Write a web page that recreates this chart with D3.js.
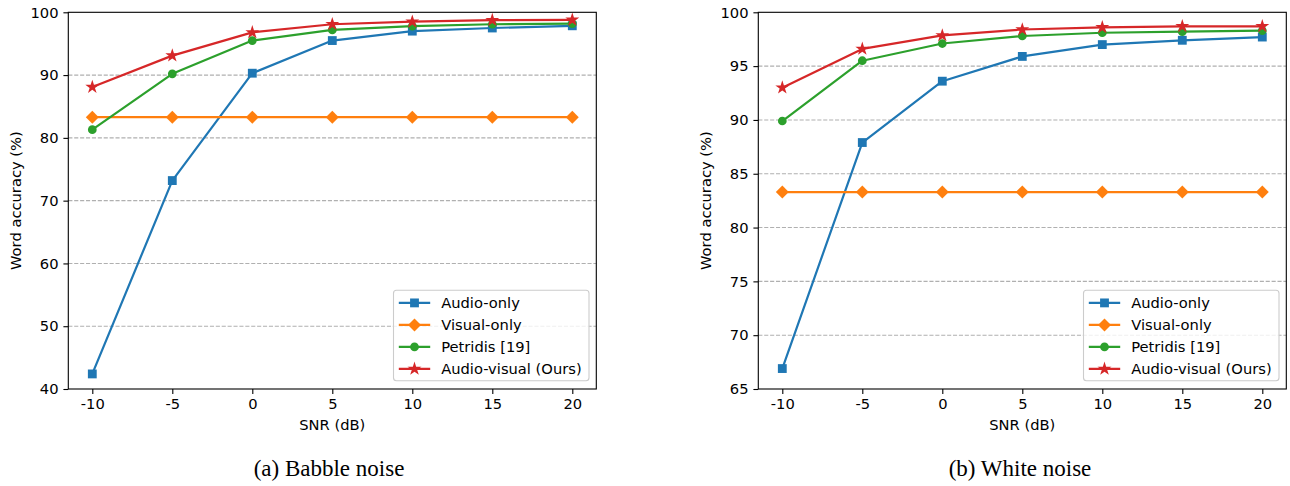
<!DOCTYPE html>
<html>
<head>
<meta charset="utf-8">
<script src="https://cdn.jsdelivr.net/npm/d3@7/dist/d3.min.js"></script>
<style>
  html, body { margin: 0; padding: 0; background: #fff; }
  svg { display: block; }
  text { font-family: "DejaVu Sans", sans-serif; fill: #000; }
</style>
</head>
<body>
<svg id="chart" width="1290" height="486"></svg>
<script>
// ---- Data ----
const snr = [-10, -5, 0, 5, 10, 15, 20];
const seriesNames = ["Audio-only", "Visual-only", "Petridis [19]", "Audio-visual (Ours)"];

const babbleAudio  = [42.4, 73.2, 90.3, 95.5, 97.0, 97.5, 97.85];
const babbleVisual = [83.3, 83.3, 83.3, 83.3, 83.3, 83.3, 83.3];
const babblePetridis = [81.3, 90.2, 95.5, 97.2, 97.8, 98.1, 98.2];
const babbleAV     = [88.1, 93.1, 96.8, 98.1, 98.5, 98.75, 98.8];

const whiteAudio   = [66.9, 87.9, 93.6, 95.9, 97.0, 97.4, 97.7];
const whiteVisual  = [83.3, 83.3, 83.3, 83.3, 83.3, 83.3, 83.3];
const whitePetridis = [89.9, 95.5, 97.1, 97.8, 98.1, 98.2, 98.3];
const whiteAV      = [93.0, 96.6, 97.85, 98.4, 98.6, 98.7, 98.7];

const xTicks = [-10, -5, 0, 5, 10, 15, 20];
const babbleYTicks = [40, 50, 60, 70, 80, 90, 100];
const whiteYTicks = [65, 70, 75, 80, 85, 90, 95, 100];

const xLabel = "SNR (dB)";
const yLabel = "Word accuracy (%)";
const captions = ["(a) Babble noise", "(b) White noise"];

// ---- Styles ----
const colors = ["#1f77b4", "#ff7f0e", "#2ca02c", "#d62728"];
const markerTypes = ["square", "diamond", "circle", "star"];

const svg = d3.select("#chart");

function markerPath(type) {
  if (type === "square") return d3.symbol().type(d3.symbolSquare).size(78)();
  if (type === "diamond") return d3.symbol().type(d3.symbolSquare).size(84)();
  if (type === "circle") return d3.symbol().type(d3.symbolCircle).size(60)();
  return d3.symbol().type(d3.symbolStar).size(60)();
}

function drawPanel(opts) {
  const { left, top, width, height, yDomain, yTicks, series, caption, captionX } = opts;
  const g = svg.append("g");
  const x = d3.scaleLinear().domain([-11.5, 21.5]).range([left, left + width]);
  const y = d3.scaleLinear().domain(yDomain).range([top + height, top]);

  // grid
  g.append("g").selectAll("line")
    .data(yTicks.filter(t => t > yDomain[0] && t < yDomain[1]))
    .join("line")
    .attr("x1", left).attr("x2", left + width)
    .attr("y1", d => y(d)).attr("y2", d => y(d))
    .attr("stroke", "#b0b0b0").attr("stroke-width", 1.1)
    .attr("stroke-dasharray", "4.1,1.8");

  // axes
  const xAxis = d3.axisBottom(x).tickValues(xTicks).tickSize(4.9).tickPadding(4.9)
    .tickFormat(d3.format("d"));
  const gx = g.append("g").attr("transform", `translate(0,${top + height})`).call(xAxis);
  const yAxis = d3.axisLeft(y).tickValues(yTicks).tickSize(4.9).tickPadding(4.9)
    .tickFormat(d3.format("d"));
  const gy = g.append("g").attr("transform", `translate(${left},0)`).call(yAxis);
  [gx, gy].forEach(a => {
    a.select(".domain").remove();
    a.selectAll(".tick line").attr("stroke", "#000").attr("stroke-width", 1.1);
    a.selectAll(".tick text").style("font-family", "DejaVu Sans").style("font-size", "14.7px").attr("fill", "#000");
  });
  gx.selectAll(".tick text").text(d => d < 0 ? "-" + Math.abs(d) : d);

  // series
  series.forEach((vals, i) => {
    const pts = snr.map((s, j) => [s, vals[j]]);
    g.append("path")
      .datum(pts)
      .attr("fill", "none")
      .attr("stroke", colors[i])
      .attr("stroke-width", 2.2)
      .attr("stroke-linejoin", "round")
      .attr("d", d3.line().x(d => x(d[0])).y(d => y(d[1])));
    g.append("g").selectAll("path")
      .data(pts)
      .join("path")
      .attr("d", markerPath(markerTypes[i]))
      .attr("transform", d => `translate(${x(d[0])},${y(d[1])})` + (markerTypes[i] === "diamond" ? " rotate(45)" : ""))
      .attr("fill", colors[i]);
  });

  // frame
  g.append("rect")
    .attr("x", left).attr("y", top).attr("width", width).attr("height", height)
    .attr("fill", "none").attr("stroke", "#000").attr("stroke-width", 1.1);

  // labels
  g.append("text")
    .attr("x", left + width / 2).attr("y", top + height + 41)
    .attr("text-anchor", "middle")
    .style("font-size", "14.7px")
    .text(xLabel);
  g.append("text")
    .attr("transform", `translate(${left - 47},${top + height / 2}) rotate(-90)`)
    .attr("text-anchor", "middle")
    .style("font-size", "14.7px")
    .text(yLabel);

  // legend
  const lw = 195.5, lh = 90.5;
  const lx = left + width - 7.3 - lw, ly = top + height - 8.3 - lh;
  const leg = g.append("g");
  leg.append("rect")
    .attr("x", lx).attr("y", ly).attr("width", lw).attr("height", lh)
    .attr("rx", 3).attr("fill", "#fff").attr("fill-opacity", 0.8)
    .attr("stroke", "#cccccc").attr("stroke-width", 1.1);
  seriesNames.forEach((name, i) => {
    const cy = ly + 12.7 + i * 22;
    leg.append("line")
      .attr("x1", lx + 5.3).attr("x2", lx + 36.7)
      .attr("y1", cy).attr("y2", cy)
      .attr("stroke", colors[i]).attr("stroke-width", 2.2);
    leg.append("path")
      .attr("d", markerPath(markerTypes[i]))
      .attr("transform", `translate(${lx + 21},${cy})` + (markerTypes[i] === "diamond" ? " rotate(45)" : ""))
      .attr("fill", colors[i]);
    leg.append("text")
      .attr("x", lx + 47.7).attr("y", cy + 5.3)
      .style("font-size", "14.7px")
      .text(name);
  });

  // caption
  svg.append("text")
    .attr("x", captionX).attr("y", 476)
    .attr("text-anchor", "middle")
    .style("font-family", "'Liberation Serif', 'Times New Roman', serif")
    .style("font-size", "23px")
    .text(caption);
}

drawPanel({
  left: 68.3, top: 12.3, width: 528, height: 376.7,
  yDomain: [40, 100], yTicks: babbleYTicks,
  series: [babbleAudio, babbleVisual, babblePetridis, babbleAV],
  caption: captions[0], captionX: 329
});
drawPanel({
  left: 758.3, top: 12.3, width: 528, height: 376.7,
  yDomain: [65, 100], yTicks: whiteYTicks,
  series: [whiteAudio, whiteVisual, whitePetridis, whiteAV],
  caption: captions[1], captionX: 1020
});
</script>
</body>
</html>
